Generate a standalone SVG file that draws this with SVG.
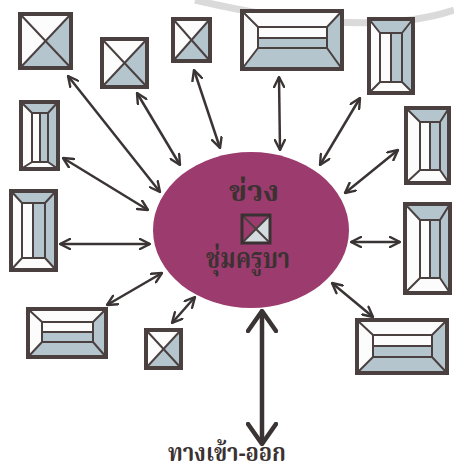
<svg xmlns="http://www.w3.org/2000/svg" width="454" height="474" viewBox="0 0 454 474">
<style>
.w{fill:#fcfcfc}
.b{fill:#b4c5cd}
.ln{stroke:#4a4040;stroke-width:2;fill:none}
.ob{stroke:#4a4040;stroke-width:4;fill:none}
.ar{stroke:#3b3434;stroke-width:2.5;fill:none}
.th{font-family:"Noto Serif Thai","Loma","Garuda","Noto Sans Thai","DejaVu Sans",sans-serif;font-weight:bold;fill:#3a3232}
</style>
<defs>
<marker id="ah" viewBox="0 0 12 12" refX="11" refY="6" markerWidth="12" markerHeight="12" markerUnits="userSpaceOnUse" orient="auto-start-reverse">
<path d="M1,1 L11,6 L1,11" fill="none" stroke="#3b3434" stroke-width="2.4" stroke-linecap="round" stroke-linejoin="round"/>
</marker>
<marker id="ahb" viewBox="0 0 24 32" refX="22" refY="16" markerWidth="24" markerHeight="32" markerUnits="userSpaceOnUse" orient="auto-start-reverse">
<path d="M2,2 L22,16 L2,30" fill="none" stroke="#3b3434" stroke-width="4.5" stroke-linecap="round" stroke-linejoin="round"/>
</marker>
</defs>
<rect width="454" height="474" fill="#ffffff"/>
<path d="M195,0 Q365,40 454,10" fill="none" stroke="#dadada" stroke-width="7"/>

<g id="connectors">
<line class="ar" x1="68" y1="76" x2="160" y2="192" marker-start="url(#ah)" marker-end="url(#ah)"/>
<line class="ar" x1="137" y1="93" x2="180" y2="165" marker-start="url(#ah)" marker-end="url(#ah)"/>
<line class="ar" x1="194" y1="70" x2="220" y2="148" marker-start="url(#ah)" marker-end="url(#ah)"/>
<line class="ar" x1="279" y1="77" x2="280" y2="150" marker-start="url(#ah)" marker-end="url(#ah)"/>
<line class="ar" x1="360" y1="98" x2="320" y2="165" marker-start="url(#ah)" marker-end="url(#ah)"/>
<line class="ar" x1="398" y1="150" x2="345" y2="193" marker-start="url(#ah)" marker-end="url(#ah)"/>
<line class="ar" x1="63" y1="158" x2="148" y2="210" marker-start="url(#ah)" marker-end="url(#ah)"/>
<line class="ar" x1="60" y1="244" x2="150" y2="244" marker-start="url(#ah)" marker-end="url(#ah)"/>
<line class="ar" x1="351" y1="242" x2="400" y2="242" marker-start="url(#ah)" marker-end="url(#ah)"/>
<line class="ar" x1="332" y1="283" x2="373" y2="317" marker-start="url(#ah)" marker-end="url(#ah)"/>
<line class="ar" x1="107" y1="305" x2="162" y2="273" marker-start="url(#ah)" marker-end="url(#ah)"/>
<line class="ar" x1="172" y1="323" x2="195" y2="297" marker-start="url(#ah)" marker-end="url(#ah)"/>
<line x1="262" y1="311" x2="262" y2="444" stroke="#3b3434" stroke-width="4.5" marker-start="url(#ahb)" marker-end="url(#ahb)"/>
</g>

<g id="center">
<ellipse cx="251" cy="230" rx="98" ry="78" fill="#9c3b6d"/>
<text class="th" x="254" y="201" font-size="28" text-anchor="middle" textLength="50" lengthAdjust="spacingAndGlyphs">ข่วง</text>
<polygon points="270,215 270,243 242,243 256,229" fill="#d4dce0"/>
<line class="ln" x1="242" y1="215" x2="270" y2="243"/>
<line class="ln" x1="270" y1="215" x2="242" y2="243"/>
<rect x="242" y="215" width="28" height="28" fill="none" stroke="#3a3232" stroke-width="3"/>
<text class="th" x="248" y="268" font-size="28" text-anchor="middle" textLength="84" lengthAdjust="spacingAndGlyphs">ชุ่มครูบา</text>
</g>

<g id="n1">
<rect class="w" x="20" y="14" width="51" height="54"/>
<polygon class="b" points="71,14 71,68 20,68 45.5,41"/>
<line class="ln" x1="20" y1="14" x2="71" y2="68"/><line class="ln" x1="71" y1="14" x2="20" y2="68"/>
<rect class="ob" x="20" y="14" width="51" height="54"/>
</g>
<g id="n2">
<rect class="w" x="102" y="39" width="45" height="48"/>
<polygon class="b" points="147,39 147,87 102,87 124.5,63"/>
<line class="ln" x1="102" y1="39" x2="147" y2="87"/><line class="ln" x1="147" y1="39" x2="102" y2="87"/>
<rect class="ob" x="102" y="39" width="45" height="48"/>
</g>
<g id="n3">
<rect class="w" x="173" y="19" width="37" height="42"/>
<polygon class="b" points="210,19 210,61 173,61 191.5,40"/>
<line class="ln" x1="173" y1="19" x2="210" y2="61"/><line class="ln" x1="210" y1="19" x2="173" y2="61"/>
<rect class="ob" x="173" y="19" width="37" height="42"/>
</g>
<g id="n11">
<rect class="w" x="146" y="330" width="35" height="38"/>
<polygon class="b" points="181,330 181,368 146,368 163.5,349"/>
<line class="ln" x1="146" y1="330" x2="181" y2="368"/><line class="ln" x1="181" y1="330" x2="146" y2="368"/>
<rect class="ob" x="146" y="330" width="35" height="38"/>
</g>

<g id="n4">
<rect class="w" x="242" y="11" width="100" height="58"/>
<polygon class="b" points="342,11 342,69 242,69 258,48 327,48 327,27"/>
<rect class="b" x="258" y="38" width="69" height="10"/>
<path class="ln" d="M242,11 L258,27 M342,11 L327,27 M242,69 L258,48 M342,69 L327,48 M258,38 H327"/>
<rect class="ln" x="258" y="27" width="69" height="21"/>
<rect class="ob" x="242" y="11" width="100" height="58"/>
</g>
<g id="n10">
<rect class="w" x="28" y="309" width="78" height="48"/>
<polygon class="b" points="106,309 106,357 28,357 42,342 93,342 93,322"/>
<rect class="b" x="42" y="332" width="51" height="10"/>
<path class="ln" d="M28,309 L42,322 M106,309 L93,322 M28,357 L42,342 M106,357 L93,342 M42,332 H93"/>
<rect class="ln" x="42" y="322" width="51" height="20"/>
<rect class="ob" x="28" y="309" width="78" height="48"/>
</g>
<g id="n12">
<rect class="w" x="357" y="320" width="90" height="53"/>
<polygon class="b" points="447,320 447,373 357,373 373,357 432,357 432,335"/>
<rect class="b" x="373" y="346" width="59" height="11"/>
<path class="ln" d="M357,320 L373,335 M447,320 L432,335 M357,373 L373,357 M447,373 L432,357 M373,346 H432"/>
<rect class="ln" x="373" y="335" width="59" height="22"/>
<rect class="ob" x="357" y="320" width="90" height="53"/>
</g>

<g id="n5">
<rect class="w" x="369" y="19" width="44" height="74"/>
<polygon class="b" points="369,19 413,19 413,93 402,82 402,33 380,33"/>
<rect class="b" x="391" y="33" width="11" height="49"/>
<path class="ln" d="M369,19 L380,33 M413,19 L402,33 M369,93 L380,82 M413,93 L402,82 M391,33 V82"/>
<rect class="ln" x="380" y="33" width="22" height="49"/>
<rect class="ob" x="369" y="19" width="44" height="74"/>
</g>
<g id="n6">
<rect class="w" x="21" y="102" width="37" height="67"/>
<polygon class="b" points="21,102 58,102 58,169 48,162 48,113 32,113"/>
<rect class="b" x="40" y="113" width="8" height="49"/>
<path class="ln" d="M21,102 L32,113 M58,102 L48,113 M21,169 L32,162 M58,169 L48,162 M40,113 V162"/>
<rect class="ln" x="32" y="113" width="16" height="49"/>
<rect class="ob" x="21" y="102" width="37" height="67"/>
</g>
<g id="n7">
<rect class="w" x="11" y="191" width="45" height="79"/>
<polygon class="b" points="11,191 56,191 56,270 45,258 45,203 22,203"/>
<rect class="b" x="33" y="203" width="12" height="55"/>
<path class="ln" d="M11,191 L22,203 M56,191 L45,203 M11,270 L22,258 M56,270 L45,258 M33,203 V258"/>
<rect class="ln" x="22" y="203" width="23" height="55"/>
<rect class="ob" x="11" y="191" width="45" height="79"/>
</g>
<g id="n8">
<rect class="w" x="406" y="108" width="43" height="75"/>
<polygon class="b" points="406,108 449,108 449,183 440,170 440,122 420,122"/>
<rect class="b" x="430" y="122" width="10" height="48"/>
<path class="ln" d="M406,108 L420,122 M449,108 L440,122 M406,183 L420,170 M449,183 L440,170 M430,122 V170"/>
<rect class="ln" x="420" y="122" width="20" height="48"/>
<rect class="ob" x="406" y="108" width="43" height="75"/>
</g>
<g id="n9">
<rect class="w" x="405" y="204" width="45" height="89"/>
<polygon class="b" points="405,204 450,204 450,293 440,278 440,220 420,220"/>
<rect class="b" x="430" y="220" width="10" height="58"/>
<path class="ln" d="M405,204 L420,220 M450,204 L440,220 M405,293 L420,278 M450,293 L440,278 M430,220 V278"/>
<rect class="ln" x="420" y="220" width="20" height="58"/>
<rect class="ob" x="405" y="204" width="45" height="89"/>
</g>

<text class="th" x="227" y="461" font-size="24" text-anchor="middle" textLength="118" lengthAdjust="spacingAndGlyphs">ทางเข้า-ออก</text>
</svg>
